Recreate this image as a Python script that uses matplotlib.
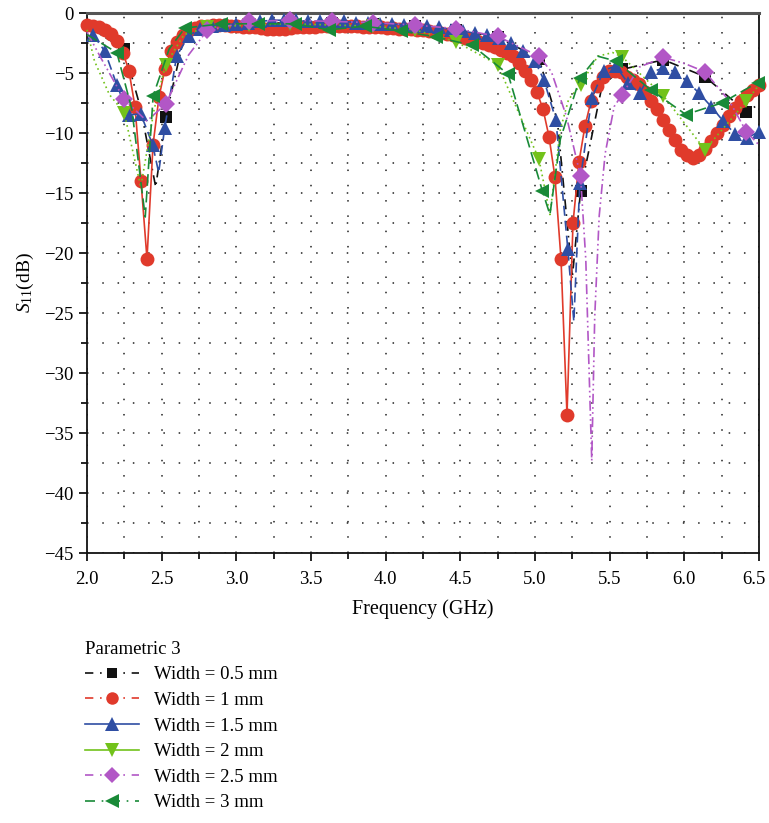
import numpy as np
import matplotlib.pyplot as plt
from matplotlib.lines import Line2D
from matplotlib.ticker import MultipleLocator, FormatStrFormatter
from matplotlib.transforms import ScaledTranslation

plt.rcParams['font.family'] = ['Liberation Serif', 'DejaVu Serif']
plt.rcParams['mathtext.fontset'] = 'custom'
plt.rcParams['mathtext.rm'] = 'Liberation Serif'
plt.rcParams['mathtext.it'] = 'Liberation Serif:italic'

# ---- data (GHz, dB) ----
labels = ["Width = 0.5 mm", "Width = 1 mm", "Width = 1.5 mm",
          "Width = 2 mm", "Width = 2.5 mm", "Width = 3 mm"]

# 1 mm: uniform sweep, every point carries a marker
f_1mm = np.linspace(2.0, 6.5, 113)
s_1mm = [-1.0, -1.1, -1.2, -1.45, -1.75, -2.3, -3.3, -4.85, -7.8, -14.0,
         -20.5, -11.0, -7.0, -4.65, -3.2, -2.4, -1.8, -1.45, -1.25, -1.1,
         -1.05, -1.0, -1.0, -1.0, -1.05, -1.1, -1.15, -1.2, -1.2, -1.25,
         -1.3, -1.3, -1.3, -1.3, -1.25, -1.2, -1.2, -1.15, -1.15, -1.1,
         -1.1, -1.1, -1.1, -1.1, -1.1, -1.1, -1.15, -1.15, -1.2, -1.2,
         -1.25, -1.25, -1.3, -1.3, -1.35, -1.4, -1.45, -1.5, -1.6, -1.65,
         -1.75, -1.85, -1.95, -2.05, -2.2, -2.35, -2.5, -2.7, -2.85, -3.05,
         -3.3, -3.6, -4.15, -4.8, -5.6, -6.6, -8.0, -10.3, -13.7, -20.5,
         -33.5, -17.5, -12.4, -9.4, -7.35, -6.05, -5.3, -4.85, -4.8, -4.95,
         -5.3, -5.6, -5.95, -6.6, -7.3, -8.0, -8.9, -9.75, -10.6, -11.4,
         -11.85, -12.05, -11.85, -11.3, -10.7, -10.0, -9.3, -8.6, -7.9, -7.35,
         -6.8, -6.4, -6.0]

f_05mm = [2.00, 2.249, 2.36, 2.46, 2.527, 2.65, 2.805, 3.083, 3.361, 3.638,
          3.916, 4.194, 4.472, 4.75, 5.027, 5.15, 5.25, 5.305, 5.45, 5.583,
          5.86, 6.138, 6.416, 6.50]
s_05mm = [-1.1, -3.0, -8.0, -14.5, -8.7, -2.0, -1.2, -0.9, -0.8, -0.8,
          -0.9, -1.1, -1.4, -2.0, -3.8, -9.0, -22.0, -14.85, -6.0, -4.7,
          -3.9, -5.3, -8.25, -7.6]
m_05mm = [1, 4, 6, 7, 8, 9, 10, 11, 12, 13, 14, 17, 19, 20, 21, 22]

f_15mm = [2.04, 2.12, 2.20, 2.28, 2.36, 2.44, 2.48, 2.52, 2.60, 2.68,
          2.76, 2.84, 2.92, 3.00, 3.08, 3.16, 3.24, 3.32, 3.40, 3.48,
          3.56, 3.64, 3.72, 3.80, 3.88, 3.96, 4.04, 4.12, 4.20, 4.28,
          4.36, 4.44, 4.52, 4.60, 4.68, 4.76, 4.84, 4.92, 5.00, 5.06,
          5.14, 5.22, 5.26, 5.30, 5.38, 5.46, 5.54, 5.62, 5.70, 5.78,
          5.86, 5.94, 6.02, 6.10, 6.18, 6.26, 6.34, 6.42, 6.50]
s_15mm = [-1.8, -3.2, -6.0, -8.5, -8.4, -11.0, -13.3, -9.6, -3.6, -1.9,
          -1.3, -1.1, -1.0, -0.9, -0.8, -0.7, -0.6, -0.6, -0.6, -0.7,
          -0.7, -0.7, -0.7, -0.8, -0.8, -0.9, -0.9, -1.0, -1.1, -1.1,
          -1.2, -1.4, -1.5, -1.7, -1.8, -2.1, -2.5, -3.2, -4.0, -5.6,
          -8.9, -19.7, -25.7, -14.2, -7.1, -4.8, -4.4, -5.8, -6.7, -4.9,
          -4.6, -4.9, -5.7, -6.7, -7.8, -9.0, -10.1, -10.4, -9.9]
m_15mm = [i for i in range(len(f_15mm)) if i not in (6, 42)]

f_2mm = [2.00, 2.05, 2.15, 2.249, 2.36, 2.45, 2.527, 2.65, 2.805, 3.083,
         3.361, 3.638, 3.916, 4.194, 4.472, 4.75, 5.027, 5.10, 5.17, 5.225,
         5.305, 5.42, 5.52, 5.583, 5.86, 6.138, 6.416, 6.50]
s_2mm = [-1.4, -4.0, -6.8, -8.3, -14.5, -8.0, -4.3, -1.8, -1.2, -1.0,
         -0.9, -1.0, -1.1, -1.4, -2.4, -4.3, -12.2, -16.8, -9.7, -7.2,
         -6.0, -3.6, -3.3, -3.65, -6.9, -11.4, -7.35, -6.0]
m_2mm = [3, 6, 8, 9, 10, 11, 12, 13, 14, 15, 16, 20, 23, 24, 25, 26]

f_25mm = [2.00, 2.10, 2.249, 2.40, 2.527, 2.68, 2.805, 3.083, 3.361, 3.638,
          3.916, 4.194, 4.472, 4.75, 5.027, 5.11, 5.21, 5.305, 5.34, 5.38,
          5.40, 5.43, 5.47, 5.53, 5.583, 5.70, 5.86, 6.00, 6.138, 6.30,
          6.416, 6.50]
s_25mm = [-1.6, -3.9, -7.2, -9.0, -7.6, -3.5, -1.45, -0.7, -0.6, -0.7,
          -0.8, -1.0, -1.3, -1.95, -3.6, -4.9, -8.6, -13.6, -20.5, -37.3,
          -25.3, -16.9, -11.7, -7.8, -6.8, -4.5, -3.7, -4.2, -4.9, -7.3,
          -9.9, -11.0]
m_25mm = [2, 4, 6, 7, 8, 9, 10, 11, 12, 13, 14, 17, 24, 26, 28, 30]

f_3mm = [2.00, 2.20, 2.30, 2.39, 2.443, 2.55, 2.655, 2.90, 3.145, 3.39,
         3.62, 3.86, 4.10, 4.34, 4.58, 4.82, 5.05, 5.10, 5.17, 5.30,
         5.42, 5.54, 5.775, 6.01, 6.25, 6.49]
s_3mm = [-1.8, -3.3, -8.0, -17.0, -6.9, -3.0, -1.25, -0.9, -0.9, -0.9,
         -1.4, -1.1, -1.5, -2.0, -2.7, -5.1, -14.85, -16.8, -10.5, -5.44,
         -3.6, -4.0, -6.4, -8.46, -7.5, -5.8]
m_3mm = [1, 4, 6, 7, 8, 9, 10, 11, 12, 13, 14, 15, 16, 19, 21, 22, 23, 24, 25]

colors = ["#111111", "#E03A2B", "#2F4EA3", "#72C21B", "#B257C6", "#198A38"]
markers = ["s", "o", "^", "v", "D", "<"]
plot_styles = [(0, (6, 3, 1, 3)), "-", (0, (6, 3)), (0, (1, 2)),
               (0, (6, 2, 1, 2, 1, 2)), (0, (7, 3))]
legend_styles = [(0, (5, 4, 1, 4)), (0, (5, 4, 1, 4)), "-", "-",
                 (0, (5, 4, 1, 4)), (0, (6, 4, 1, 4))]
msizes = [8, 10, 10.5, 10.5, 9, 10.5]

fig = plt.figure(figsize=(7.69, 8.23), dpi=100)
ax = fig.add_axes([87 / 769, 1 - 553 / 823, 672 / 769, 540 / 823])

series = [(f_05mm, s_05mm, m_05mm), (f_1mm, s_1mm, None),
          (f_15mm, s_15mm, m_15mm), (f_2mm, s_2mm, m_2mm),
          (f_25mm, s_25mm, m_25mm), (f_3mm, s_3mm, m_3mm)]

for i, (f, s, m) in enumerate(series):
    ax.plot(f, s, color=colors[i], linestyle=plot_styles[i], linewidth=1.2,
            marker=markers[i], markersize=msizes[i], markevery=m,
            markeredgewidth=0, zorder=3 + i, clip_on=False)

ax.set_xlim(2.0, 6.5)
ax.set_ylim(-45, 0)
ax.xaxis.set_major_locator(MultipleLocator(0.5))
ax.xaxis.set_minor_locator(MultipleLocator(0.25))
ax.yaxis.set_major_locator(MultipleLocator(5))
ax.yaxis.set_minor_locator(MultipleLocator(2.5))
ax.xaxis.set_major_formatter(FormatStrFormatter("%.1f"))

ax.grid(which="both", color="#222222", linestyle=(0, (1, 9)), linewidth=1.1)
ax.tick_params(which="both", direction="out", top=False, right=False,
               labelsize=13.5, width=1.2)
ax.tick_params(which="major", length=6)
ax.tick_params(axis="x", which="major", pad=7)
ax.tick_params(which="minor", length=4)
for side in ["left", "bottom", "right"]:
    ax.spines[side].set_linewidth(1.3)
    ax.spines[side].set_color("#111111")
ax.spines["top"].set_linewidth(2.2)
ax.spines["top"].set_color("#555555")

ax.set_xlabel("Frequency (GHz)", fontsize=14.5, labelpad=8)
ax.set_ylabel(r"$\mathit{S}_{\mathit{11}}$(dB)", fontsize=14, labelpad=6)

# nudge the last x tick label ("6.5") so it stays on the canvas
fig.canvas.draw()
for lbl in ax.get_xticklabels():
    if lbl.get_text() == "6.5":
        lbl.set_transform(lbl.get_transform()
                          + ScaledTranslation(-4 / 72, 0, fig.dpi_scale_trans))

handles = [Line2D([], [], color=colors[i], linestyle=legend_styles[i],
                  linewidth=1.2, marker=markers[i], markersize=msizes[i] - 1,
                  markeredgewidth=0) for i in range(6)]
leg = fig.legend(handles, labels, loc="upper left",
                 bbox_to_anchor=(68 / 769, 1 - 624 / 823), frameon=False,
                 title="Parametric 3", fontsize=13.5, title_fontsize=13.5,
                 handlelength=2.9, labelspacing=0.45, handletextpad=0.8)
leg._legend_box.align = "left"

fig.savefig("out.png", dpi=100)
